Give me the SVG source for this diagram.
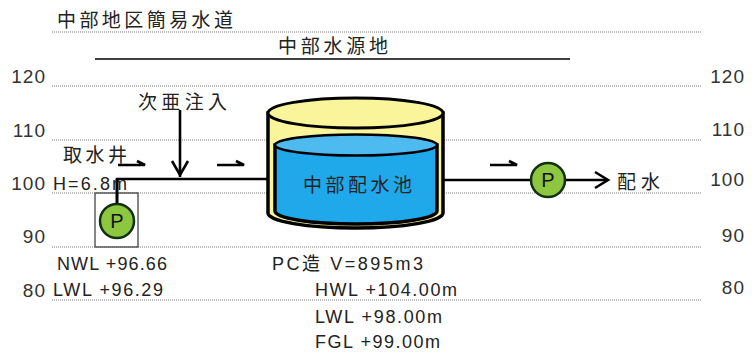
<svg xmlns="http://www.w3.org/2000/svg" width="753" height="352" viewBox="0 0 753 352">
  <defs>
    <style>
      .lvl { stroke: #7a7a7a; stroke-width: 1.2; stroke-dasharray: 1 1; fill: none; }
      .ax { font-family: "Liberation Sans", Arial, sans-serif; font-size: 19px; fill: #333; letter-spacing: 1px; }
      .ja { font-family: "Noto Sans CJK JP", "Noto Sans CJK SC", sans-serif; font-size: 19px; fill: #222; }
      .lbl { font-family: "Liberation Sans", "Noto Sans CJK JP", sans-serif; font-size: 18px; fill: #222; }
      .pipe { stroke: #000; stroke-width: 2.6; fill: none; }
      .pump { fill: #8dc63f; stroke: #123012; stroke-width: 2.5; }
      .ptxt { font-family: "Liberation Sans", Arial, sans-serif; font-size: 20px; fill: #111; text-anchor: middle; }
    </style>
  </defs>

  <rect width="753" height="352" fill="#fff"/>

  <!-- elevation reference lines -->
  <g id="levels">
    <line class="lvl" x1="52" y1="32" x2="702" y2="32"/>
    <line class="lvl" x1="52" y1="86" x2="702" y2="86"/>
    <line class="lvl" x1="52" y1="140" x2="702" y2="140"/>
    <line class="lvl" x1="52" y1="193" x2="702" y2="193"/>
    <line class="lvl" x1="52" y1="247" x2="702" y2="247"/>
    <line class="lvl" x1="52" y1="300" x2="702" y2="300"/>
  </g>

  <!-- axis values -->
  <g id="axis-left" class="ax" text-anchor="end">
    <text x="46" y="83">120</text>
    <text x="46" y="137">110</text>
    <text x="46" y="190">100</text>
    <text x="46" y="243">90</text>
    <text x="46" y="297">80</text>
  </g>
  <g id="axis-right" class="ax" text-anchor="end">
    <text x="745" y="83">120</text>
    <text x="745" y="136">110</text>
    <text x="745" y="186">100</text>
    <text x="745" y="242">90</text>
    <text x="745" y="294">80</text>
  </g>

  <!-- headings -->
  <g id="title">
    <text class="ja" x="57" y="27" font-size="20" textLength="176" lengthAdjust="spacing">中部地区簡易水道</text>
  </g>
  <g id="source">
    <text class="ja" x="278" y="53" font-size="20" textLength="110" lengthAdjust="spacing">中部水源地</text>
    <line x1="95" y1="59" x2="570" y2="59" stroke="#000" stroke-width="1.5"/>
  </g>

  <!-- connectors -->
  <g id="connectors">
    <!-- well to reservoir -->
    <polyline class="pipe" points="117,205 117,179 268,179"/>
    <!-- chlorine injection -->
    <line class="pipe" x1="180" y1="110" x2="180" y2="177"/>
    <polyline class="pipe" points="172,161 180,175 188,161"/>
    <!-- reservoir to booster pump -->
    <line class="pipe" x1="443" y1="180" x2="531" y2="180"/>
    <!-- booster pump to distribution -->
    <line class="pipe" x1="565" y1="180" x2="607" y2="180"/>
    <polyline class="pipe" points="595,172 608,180 595,188"/>
    <!-- flow direction marks -->
    <path class="pipe" d="M118,165 H145 L137,161"/>
    <path class="pipe" d="M217,165 H244 L236,161"/>
    <path class="pipe" d="M490,165 H517 L509,161"/>
  </g>

  <!-- intake well with pump -->
  <g id="intake">
    <text class="ja" x="63" y="162" font-size="20" textLength="64" lengthAdjust="spacing">取水井</text>
    <text class="lbl" x="53" y="190" font-size="19" textLength="74" lengthAdjust="spacing">H=6.8m</text>
    <rect x="95" y="193" width="43" height="54" fill="none" stroke="#444" stroke-width="1.3"/>
    <line class="pipe" x1="117" y1="179" x2="117" y2="205"/>
    <circle class="pump" cx="117" cy="221" r="17"/>
    <text class="ptxt" x="117" y="228">P</text>
  </g>

  <g id="injection">
    <text class="ja" x="138" y="109" font-size="20" textLength="89" lengthAdjust="spacing">次亜注入</text>
  </g>

  <!-- distribution reservoir -->
  <g id="reservoir">
    <path d="M268,113 V213 A87.5,15 0 0 0 443,213 V113 Z" fill="#faf59a" stroke="#000" stroke-width="3.5"/>
    <ellipse cx="355.5" cy="113" rx="87.5" ry="15" fill="#faf59a" stroke="#000" stroke-width="3"/>
    <path d="M275,145 V211 A81,13 0 0 0 437,211 V145 Z" fill="#1fa9ea" stroke="#000" stroke-width="3.5"/>
    <ellipse cx="356" cy="145" rx="81" ry="10.5" fill="#4dbaf0" stroke="#000" stroke-width="2.6"/>
    <text class="ja" x="303" y="192" font-size="20" fill="#142040" textLength="109" lengthAdjust="spacing">中部配水池</text>
  </g>

  <!-- booster pump and outlet -->
  <g id="booster-pump">
    <circle class="pump" cx="548" cy="180" r="17"/>
    <text class="ptxt" x="548" y="187">P</text>
  </g>
  <g id="outlet">
    <text class="ja" x="617" y="189" font-size="20" textLength="43" lengthAdjust="spacing">配水</text>
  </g>

  <!-- specifications -->
  <g id="well-specs" class="lbl">
    <text x="57" y="270" textLength="110" lengthAdjust="spacing">NWL +96.66</text>
    <text x="53" y="296" textLength="110" lengthAdjust="spacing">LWL +96.29</text>
  </g>
  <g id="reservoir-specs" class="lbl">
    <text x="272" y="270" textLength="151" lengthAdjust="spacing">PC造 V=895m3</text>
    <text x="315" y="296" textLength="142" lengthAdjust="spacing">HWL +104.00m</text>
    <text x="315" y="323" textLength="127" lengthAdjust="spacing">LWL +98.00m</text>
    <text x="315" y="348" textLength="125" lengthAdjust="spacing">FGL +99.00m</text>
  </g>
</svg>
